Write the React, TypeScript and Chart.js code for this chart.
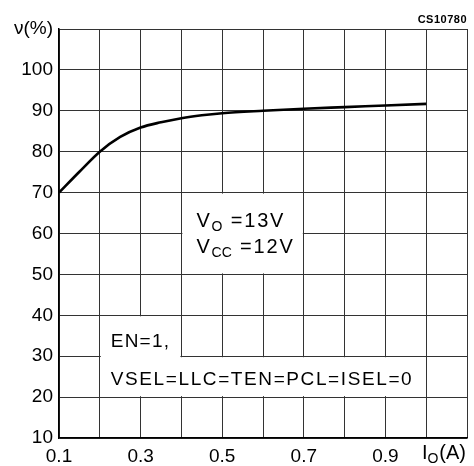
import React, { useEffect, useRef } from "react";
import { Chart, registerables } from "chart.js";

Chart.register(...registerables);

const currentA = [0.1, 0.15, 0.2, 0.25, 0.3, 0.35, 0.4, 0.45, 0.5, 0.6, 0.7, 0.8, 0.9, 1.0];
const efficiencyPct = [70, 75.1, 80, 83.6, 85.9, 87.2, 88.2, 88.9, 89.4, 90.0, 90.5, 90.9, 91.3, 91.7];
const xTickLabels = ["0.1", "0.3", "0.5", "0.7", "0.9"];
const yTickLabels = ["10", "20", "30", "40", "50", "60", "70", "80", "90", "100"];
const yAxisTitle = "ν(%)";
const chartCode = "CS10780";
const enLine = "EN=1,";
const selLine = "VSEL=LLC=TEN=PCL=ISEL=0";

const FONT = "'Liberation Sans', Arial, sans-serif";

const annotationPlugin = {
  id: "annot",
  beforeDatasetsDraw(chart: any) {
    const { ctx, scales } = chart;
    const x = scales.x;
    const y = scales.y;
    ctx.save();
    ctx.fillStyle = "#fff";
    const rect = (x0: number, x1: number, y0: number, y1: number) => {
      const l = x.getPixelForValue(x0) + 1;
      const r = x.getPixelForValue(x1) - 1;
      const t = y.getPixelForValue(y0) + 1;
      const b = y.getPixelForValue(y1) - 1;
      ctx.fillRect(l, t, r - l, b - t);
    };
    rect(0.4, 0.7, 70, 50);
    rect(0.2, 0.4, 40, 20);
    rect(0.2, 1.0, 30, 20);
    ctx.restore();
  },
  afterDraw(chart: any) {
    const { ctx, scales, chartArea } = chart;
    const x = scales.x;
    const y = scales.y;
    ctx.save();
    ctx.fillStyle = "#000";
    ctx.textBaseline = "alphabetic";
    const sub = (parts: [string, boolean][], px: number, py: number, size: number, spacing: number) => {
      let cx = px;
      for (const [t, isSub] of parts) {
        ctx.font = `${isSub ? Math.round(size * 0.72) : size}px ${FONT}`;
        (ctx as any).letterSpacing = isSub ? "0px" : `${spacing}px`;
        ctx.fillText(t, cx, isSub ? py + 4 : py);
        cx += ctx.measureText(t).width + (isSub ? 1 : 0);
      }
      (ctx as any).letterSpacing = "0px";
    };
    // Vo / Vcc box
    const bx = x.getPixelForValue(0.4) + 15;
    sub([["V", false], ["O", true], [" =13V", false]], bx, y.getPixelForValue(70) + 34, 20, 1.8);
    sub([["V", false], ["CC", true], [" =12V", false]], bx, y.getPixelForValue(60) + 19, 20, 1.8);
    // EN lines
    ctx.font = `19px ${FONT}`;
    ctx.textAlign = "left";
    const ex = x.getPixelForValue(0.2) + 11;
    (ctx as any).letterSpacing = "1.2px";
    ctx.fillText(enLine, ex, y.getPixelForValue(40) + 32);
    (ctx as any).letterSpacing = "1.6px";
    ctx.fillText(selLine, ex, y.getPixelForValue(30) + 29);
    (ctx as any).letterSpacing = "0px";
    // axis title x
    ctx.textAlign = "left";
    const iw = (() => {
      ctx.font = `20px ${FONT}`;
      const a = ctx.measureText("I").width;
      ctx.font = `14px ${FONT}`;
      const b = ctx.measureText("O").width;
      ctx.font = `20px ${FONT}`;
      const c = ctx.measureText("(A)").width;
      return a + b + c + 2;
    })();
    sub([["I", false], ["O", true], ["(A)", false]], chartArea.right - iw, chartArea.bottom + 21, 20, 0);
    // code
    ctx.font = `bold 11px ${FONT}`;
    ctx.textAlign = "right";
    (ctx as any).letterSpacing = "0.5px";
    ctx.fillText(chartCode, chartArea.right, chartArea.top - 6);
    ctx.restore();
  },
};

export default function App() {
  const ref = useRef<HTMLCanvasElement>(null);
  useEffect(() => {
    if (!ref.current) return;
    const chart = new Chart(ref.current, {
      type: "line",
      data: {
        datasets: [
          {
            data: currentA.map((v, i) => ({ x: v, y: efficiencyPct[i] })),
            borderColor: "#000",
            borderWidth: 2.6,
            pointRadius: 0,
            cubicInterpolationMode: "monotone",
            fill: false,
          },
        ],
      },
      options: {
        animation: false,
        responsive: false,
        layout: { padding: { top: 29, right: 6, left: 0, bottom: 0 } },
        plugins: { legend: { display: false }, tooltip: { enabled: false } },
        scales: {
          x: {
            type: "linear",
            min: 0.1,
            max: 1.1,
            afterFit: (s: any) => {
              s.height = 28;
            },
            border: { color: "#000", width: 1.5 },
            grid: { color: "#333", lineWidth: 1, drawTicks: false },
            ticks: {
              stepSize: 0.1,
              padding: 7,
              color: "#000",
              font: { family: FONT, size: 19 },
              maxRotation: 0,
              autoSkip: false,
              callback: (v: any) => {
                const s = Number(v).toFixed(1);
                return xTickLabels.includes(s) ? s : "";
              },
            },
          },
          y: {
            min: 10,
            max: 110,
            afterFit: (s: any) => {
              s.width = 59;
            },
            border: { color: "#000", width: 1.5 },
            grid: { color: "#333", lineWidth: 1, drawTicks: false },
            ticks: {
              stepSize: 10,
              padding: 6,
              color: "#000",
              font: { family: FONT, size: 19 },
              autoSkip: false,
              callback: (v: any) => {
                const s = String(Math.round(Number(v)));
                if (s === "110") return yAxisTitle;
                return yTickLabels.includes(s) ? s : "";
              },
            },
          },
        },
      },
      plugins: [annotationPlugin],
    } as any);
    return () => chart.destroy();
  }, []);
  return (
    <div style={{ position: "fixed", left: 0, top: 0, width: 474, height: 466, background: "#fff" }}>
      <canvas ref={ref} width={474} height={466} />
    </div>
  );
}
